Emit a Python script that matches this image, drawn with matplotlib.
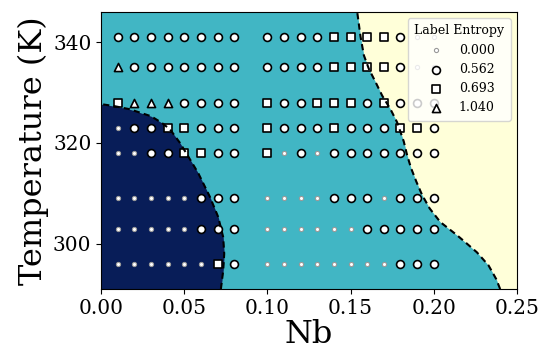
import numpy as np
import matplotlib
matplotlib.use("Agg")
import matplotlib.pyplot as plt

plt.rcParams['font.family'] = ['DejaVu Serif']

# ---- data ----
nb_values = [0.01, 0.02, 0.03, 0.04, 0.05, 0.06, 0.07, 0.08,
             0.10, 0.11, 0.12, 0.13, 0.14, 0.15, 0.16, 0.17, 0.18, 0.19, 0.20]
temps = [296, 303, 309, 318, 323, 328, 335, 341]

# D = 0.000, C = 0.562, S = 0.693, T = 1.040
entropy_rows = {
    341: "CCCCCCCC" + "CCCCSSSSCDD",
    335: "TCCCCCCC" + "CCCCSSSSCDD",
    328: "STTTCCCC" + "SCCSSSCSCCC",
    323: "DCCSSCCC" + "SCCCSCCCSSC",
    318: "DDCCSSCC" + "SDCDCCCCCCC",
    309: "DDDDDCCC" + "DDDDCCCDCCC",
    303: "DDDDDCCC" + "DDDDDDCCCCC",
    296: "DDDDDDSC" + "DDDDDDDDCCC",
}
entropy_levels = ["0.000", "0.562", "0.693", "1.040"]
codes = ["D", "C", "S", "T"]

# phase boundaries (T in K, Nb)
navy_T = [291.0, 294.7, 298.0, 301.3, 305.3, 309.3, 314.0, 317.3, 320.0,
          322.7, 324.0, 325.3, 326.7, 327.3, 327.7]
navy_Nb = [0.0720, 0.0734, 0.0740, 0.0734, 0.0704, 0.0654, 0.0584, 0.0524,
           0.0474, 0.0414, 0.0364, 0.0300, 0.0170, 0.0080, 0.0000]

yellow_T = [291.0, 293.0, 295.7, 298.3, 300.3, 301.7, 304.3, 307.0, 309.7,
            312.3, 315.0, 317.6, 320.3, 324.1, 326.7, 329.4, 332.1, 334.7,
            337.4, 341.1, 346.0]
yellow_Nb = [0.2400, 0.2376, 0.2330, 0.2260, 0.2190, 0.2140, 0.2040, 0.1976,
             0.1930, 0.1896, 0.1864, 0.1840, 0.1820, 0.1780, 0.1740, 0.1690,
             0.1650, 0.1610, 0.1580, 0.1560, 0.1540]

c_navy = "#081d58"
c_teal = "#41b6c4"
c_yellow = "#ffffd9"

fig = plt.figure(figsize=(5.44, 3.5), dpi=100)
ax = fig.add_axes([0.186, 0.174, 0.764, 0.792])
ax.set_xlim(0, 0.25)
ax.set_ylim(291, 346)
ax.set_facecolor(c_teal)

# regions
ax.fill_betweenx(navy_T, 0, navy_Nb, color=c_navy, lw=0, zorder=1)
ax.fill_betweenx(yellow_T, yellow_Nb, 0.25, color=c_yellow, lw=0, zorder=1)

# points
styles = {
    "D": dict(marker="o", s=9, facecolors="white", edgecolors="#999999", linewidths=0.8),
    "C": dict(marker="o", s=32, facecolors="white", edgecolors="black", linewidths=1.2),
    "S": dict(marker="s", s=30, facecolors="white", edgecolors="black", linewidths=1.2),
    "T": dict(marker="^", s=34, facecolors="white", edgecolors="black", linewidths=1.2),
}
for code, lab in zip(codes, entropy_levels):
    xs, ys = [], []
    for t in temps:
        row = entropy_rows[t]
        for nb, ch in zip(nb_values, row):
            if ch == code:
                xs.append(nb)
                ys.append(t)
    ax.scatter(xs, ys, label=lab, zorder=3, **styles[code])

# boundaries
ax.plot(navy_Nb, navy_T, color="black", ls=(0, (3, 2)), lw=1.5, zorder=4)
ax.plot(yellow_Nb, yellow_T, color="black", ls=(0, (3, 2)), lw=1.5, zorder=4)

ax.set_xticks([0.00, 0.05, 0.10, 0.15, 0.20, 0.25])
ax.set_xticklabels(["0.00", "0.05", "0.10", "0.15", "0.20", "0.25"])
ax.set_yticks([300, 320, 340])
ax.tick_params(labelsize=14.5)
ax.set_xlabel("Nb", fontsize=23, labelpad=1)
ax.set_ylabel("Temperature (K)", fontsize=23, labelpad=3)

leg = ax.legend(title="Label Entropy", loc="upper right", fontsize=9,
                title_fontsize=9, scatterpoints=1, borderaxespad=0.5,
                borderpad=0.5)
leg.set_zorder(5)

fig.savefig("out.png", dpi=100)
